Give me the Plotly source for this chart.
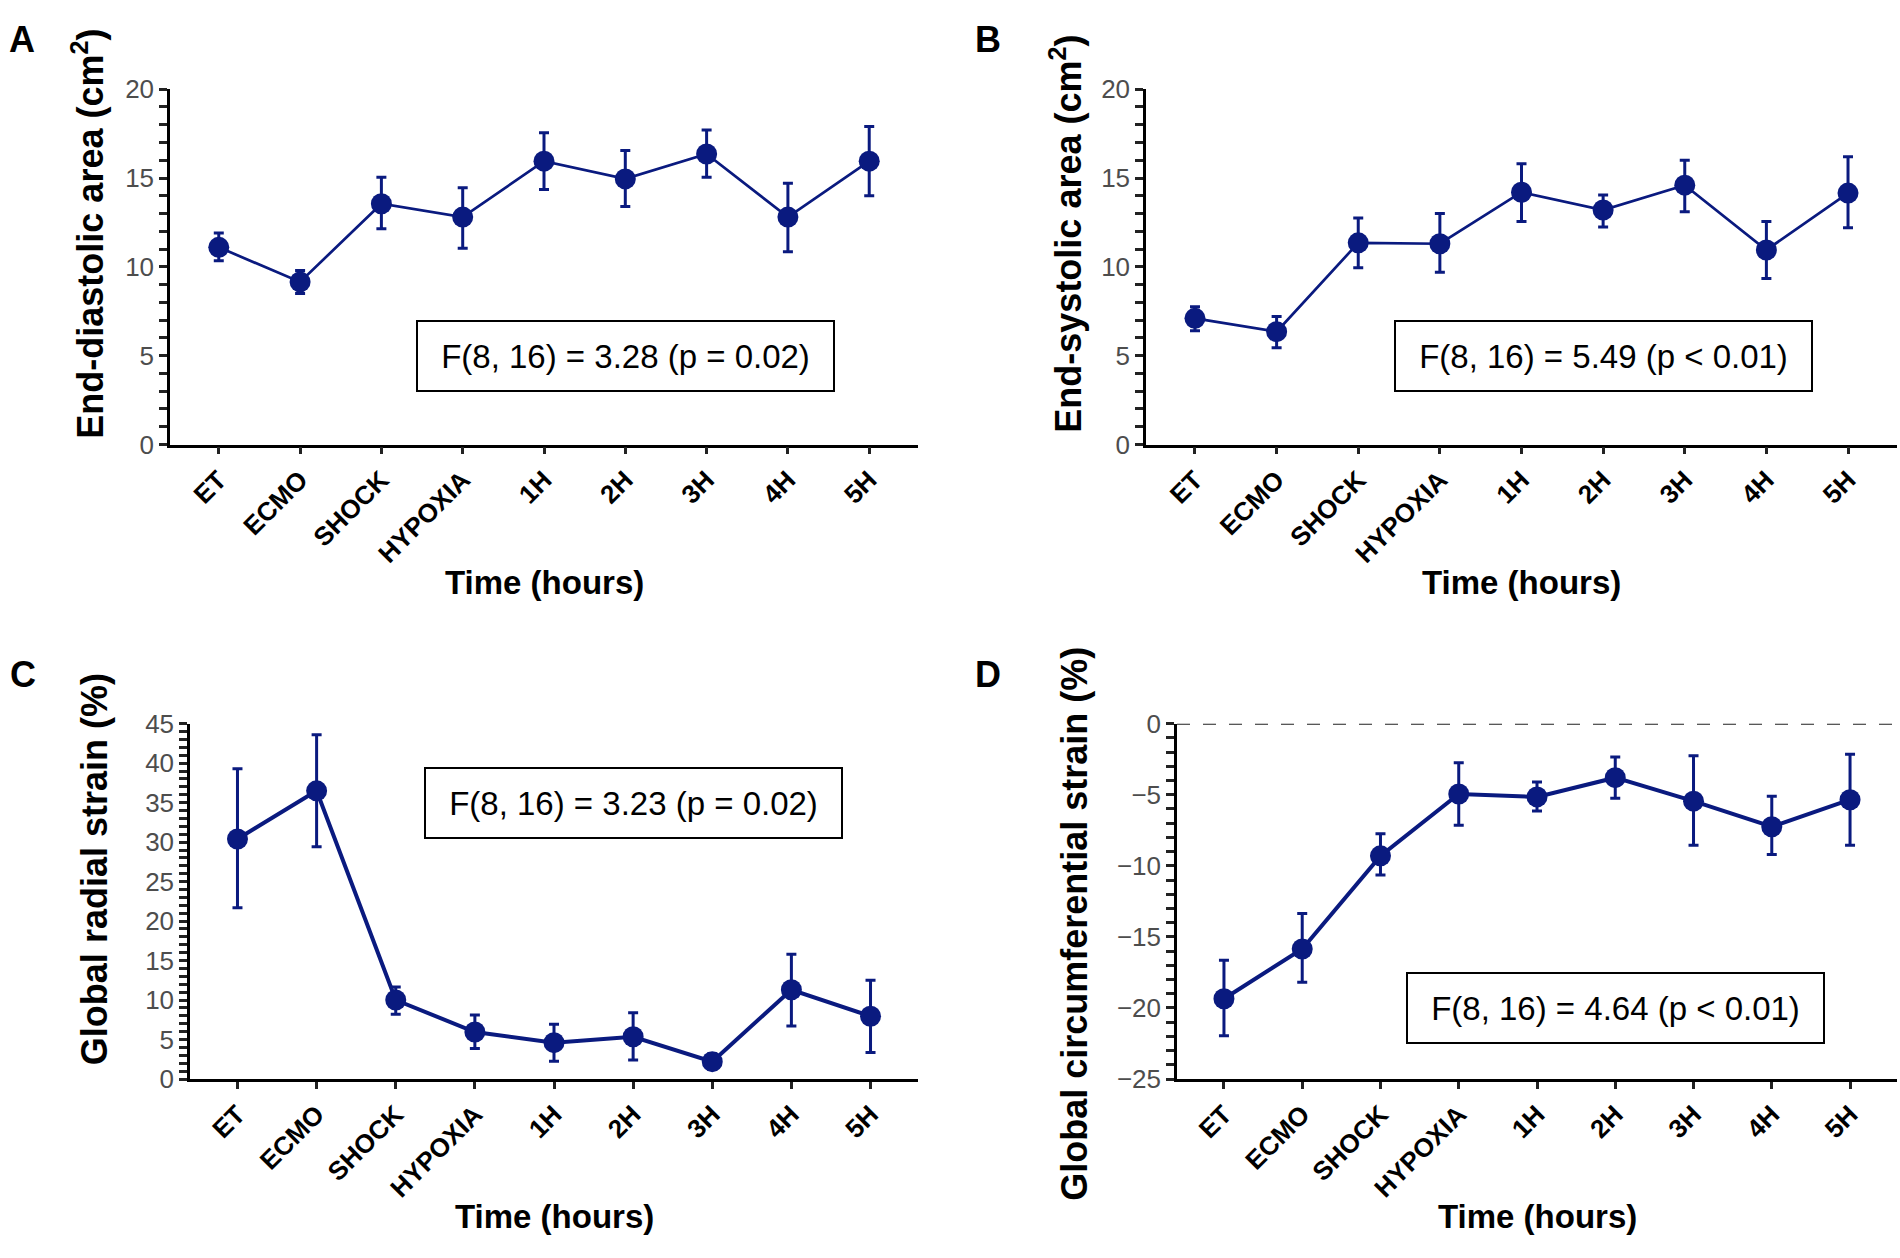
import plotly.graph_objects as go

W, H = 1900, 1258

categories = ["ET", "ECMO", "SHOCK", "HYPOXIA", "1H", "2H", "3H", "4H", "5H"]

# Panel A: End-diastolic area (cm^2)
a_mean = [11.1, 9.15, 13.55, 12.8, 15.95, 14.95, 16.35, 12.8, 15.95]
a_upper = [11.9, 9.8, 15.05, 14.45, 17.55, 16.55, 17.7, 14.7, 17.9]
a_lower = [10.35, 8.5, 12.15, 11.05, 14.35, 13.4, 15.05, 10.85, 14.0]

# Panel B: End-systolic area (cm^2)
b_mean = [7.1, 6.35, 11.35, 11.3, 14.2, 13.2, 14.6, 10.95, 14.15]
b_upper = [7.75, 7.2, 12.75, 13.0, 15.8, 14.05, 16.0, 12.55, 16.2]
b_lower = [6.4, 5.45, 9.95, 9.7, 12.55, 12.25, 13.1, 9.35, 12.2]

# Panel C: Global radial strain (%)
c_mean = [30.4, 36.5, 10.0, 5.95, 4.6, 5.35, 2.2, 11.3, 7.95]
c_upper = [39.3, 43.6, 11.65, 8.1, 6.95, 8.4, 3.2, 15.8, 12.5]
c_lower = [21.7, 29.4, 8.2, 3.85, 2.25, 2.4, 1.2, 6.7, 3.35]

# Panel D: Global circumferential strain (%)
d_mean = [-19.35, -15.85, -9.3, -4.95, -5.15, -3.8, -5.45, -7.25, -5.35]
d_upper = [-16.65, -13.35, -7.75, -2.75, -4.1, -2.35, -2.25, -5.1, -2.15]
d_lower = [-21.95, -18.2, -10.65, -7.15, -6.15, -5.25, -8.55, -9.2, -8.55]

panel_letters = ["A", "B", "C", "D"]
y_titles = ["End-diastolic area (cm<sup>2</sup>)", "End-systolic area (cm<sup>2</sup>)",
            "Global radial strain (%)", "Global circumferential strain (%)"]
stat_labels = ["F(8, 16) = 3.28 (p = 0.02)", "F(8, 16) = 5.49 (p < 0.01)",
               "F(8, 16) = 3.23 (p = 0.02)", "F(8, 16) = 4.64 (p < 0.01)"]
stat_pos = [("2H", 5), ("2H", 5), ("2H", 35), ("2H", -20)]
y_ranges = [(0, 20), (0, 20), (0, 45), (-25, 0)]

NAVY = "#0a1a7f"
FONT = "Liberation Sans, Arial, sans-serif"

# pixel geometry of panels: (x0, x1, ytop, ybottom)
geom = [(170, 918, 76, 440), (1146, 1897, 76, 440),
        (190, 918, 726, 1090), (1177, 1897, 726, 1090)]
line_w = [2.7, 2.7, 4, 4]
ytitle_pos = [(88, 224), (1066, 224), (94, 875), (1075, 931)]
xtitle_y = [581, 581, 1231, 1231]
letter_pos = [(22, 25), (988, 25), (23, 676), (988, 676)]

series = [(a_mean, a_upper, a_lower), (b_mean, b_upper, b_lower),
          (c_mean, c_upper, c_lower), (d_mean, d_upper, d_lower)]

fig = go.Figure()
layout = dict(autosize=True, margin=dict(l=0, r=0, t=0, b=0),
              paper_bgcolor="white", plot_bgcolor="white", showlegend=False,
              font=dict(family=FONT, color="black"))
annotations = []
shapes = []

for i, (mean, up, lo) in enumerate(series):
    k = "" if i == 0 else str(i + 1)
    xa, ya = "x" + k, "y" + k
    fig.add_trace(go.Scatter(
        x=categories, y=mean, xaxis=xa, yaxis=ya, mode="lines+markers",
        line=dict(color=NAVY, width=line_w[i]),
        marker=dict(color=NAVY, size=21),
        error_y=dict(type="data", symmetric=False,
                     array=[u - m for u, m in zip(up, mean)],
                     arrayminus=[m - l for m, l in zip(mean, lo)],
                     color=NAVY, thickness=3, width=5),
        hoverinfo="skip", cliponaxis=False))
    x0, x1, yt, yb = geom[i]
    layout["xaxis" + k] = dict(
        domain=[x0 / W, x1 / W], anchor=ya, type="category",
        categoryorder="array", categoryarray=categories,
        range=[-0.6, 8.6], showline=True, linecolor="black", linewidth=2.5,
        ticks="outside", ticklen=7, tickwidth=2.5, tickcolor="#222",
        tickangle=-45, showgrid=False, zeroline=False,
        tickfont=dict(family=FONT, size=26, color="black", weight="bold"))
    layout["yaxis" + k] = dict(
        domain=[1 - yb / H, 1 - yt / H], anchor=xa, range=list(y_ranges[i]),
        showline=True, linecolor="black", linewidth=2.5,
        ticks="outside", ticklen=8, tickwidth=2.5, tickcolor="#222",
        dtick=5, tick0=0, showgrid=False, zeroline=False,
        tickfont=dict(family=FONT, size=26, color="#4d4d4d"),
        minor=dict(dtick=1, ticks="outside", ticklen=8, tickwidth=2.5,
                   tickcolor="#222", showgrid=False))
    # y title
    annotations.append(dict(text="<b>" + y_titles[i] + "</b>", xref="paper", yref="paper",
                            x=ytitle_pos[i][0] / W, y=1 - ytitle_pos[i][1] / H,
                            textangle=-90, showarrow=False, xanchor="center", yanchor="middle",
                            font=dict(family=FONT, size=36, color="black")))
    # x title
    annotations.append(dict(text="<b>Time (hours)</b>", xref="paper", yref="paper",
                            x=(x0 + x1) / 2 / W, y=1 - xtitle_y[i] / H,
                            showarrow=False, xanchor="center", yanchor="middle",
                            font=dict(family=FONT, size=33, color="black")))
    # panel letter
    annotations.append(dict(text="<b>" + panel_letters[i] + "</b>", xref="paper", yref="paper",
                            x=letter_pos[i][0] / W, y=1 - letter_pos[i][1] / H,
                            showarrow=False, xanchor="center", yanchor="middle",
                            font=dict(family=FONT, size=36, color="black")))
    # stats label
    annotations.append(dict(text=stat_labels[i], xref=xa, yref=ya,
                            x=stat_pos[i][0], y=stat_pos[i][1], showarrow=False,
                            xanchor="center", yanchor="middle",
                            width=411, height=64, borderpad=2, borderwidth=2,
                            bordercolor="black", bgcolor="white",
                            font=dict(family=FONT, size=33, color="black")))

# dashed zero reference line in panel D
shapes.append(dict(type="line", xref="x4 domain", yref="y4", x0=0, x1=1, y0=0, y1=0,
                   line=dict(color="#222", width=2, dash="13px,13px"), layer="below"))

layout["annotations"] = annotations
layout["shapes"] = shapes
fig.update_layout(**layout)
fig.write_html("out.html", default_width="100vw", default_height="100vh",
               config={"displayModeBar": False, "responsive": True},
               post_script="document.body.style.margin='0px';document.body.style.overflow='hidden';")
